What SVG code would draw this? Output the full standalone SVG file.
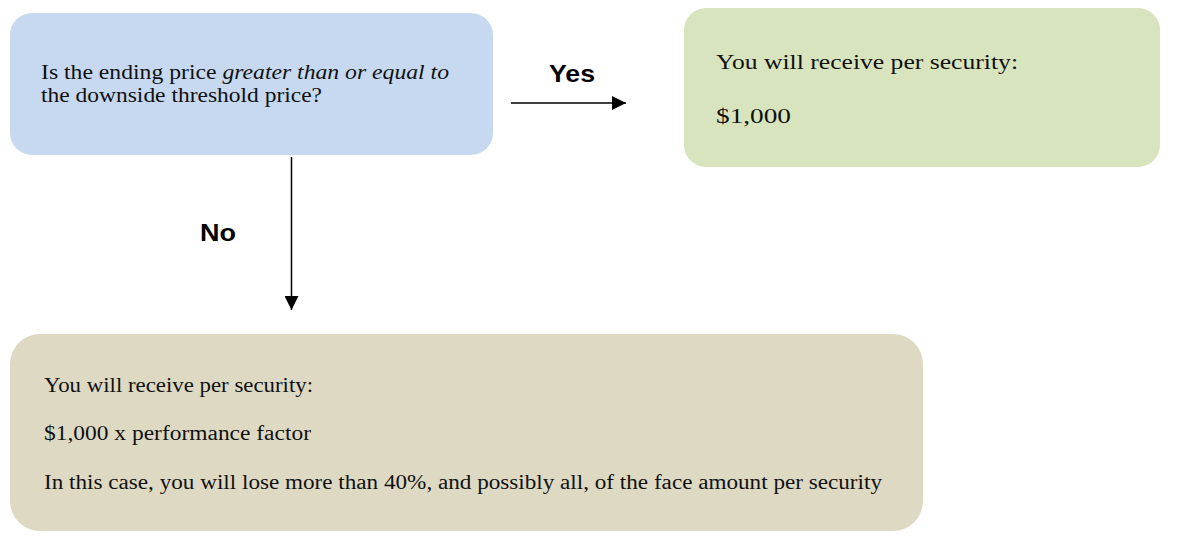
<svg xmlns="http://www.w3.org/2000/svg" width="1181" height="544" viewBox="0 0 1181 544">
<style>
.t{font-family:"Liberation Serif","DejaVu Serif",serif;fill:#111;}
.lbl{font-family:"Liberation Sans",Arial,sans-serif;font-weight:bold;font-size:23px;fill:#000;}
.conn{stroke:#000;stroke-width:1.5;fill:none;}
</style>
<defs>
<marker id="ah" viewBox="0 0 14 14" refX="14" refY="7" markerWidth="14" markerHeight="14" markerUnits="userSpaceOnUse" orient="auto">
<path d="M0,0 L14,7 L0,14 Z" fill="#000"/>
</marker>
</defs>
<rect width="1181" height="544" fill="#fff"/>
<g id="question">
<rect x="10" y="13" width="483" height="142" rx="22" fill="#c6d9f1"/>
<text class="t" x="41" y="79" font-size="20" textLength="408" lengthAdjust="spacingAndGlyphs">Is the ending price <tspan font-style="italic">greater than or equal to</tspan></text>
<text class="t" x="41" y="102" font-size="20" textLength="281" lengthAdjust="spacingAndGlyphs">the downside threshold price?</text>
</g>
<g id="yes-result">
<rect x="684" y="8" width="476" height="159" rx="22" fill="#d8e4bd"/>
<text class="t" x="716" y="69" font-size="21" textLength="302" lengthAdjust="spacingAndGlyphs">You will receive per security:</text>
<text class="t" x="716" y="123" font-size="21" textLength="75" lengthAdjust="spacingAndGlyphs">$1,000</text>
</g>
<g id="no-result">
<rect x="10" y="334" width="913" height="197" rx="30" fill="#ddd9c3"/>
<text class="t" x="44" y="392" font-size="20" textLength="269" lengthAdjust="spacingAndGlyphs">You will receive per security:</text>
<text class="t" x="44" y="440" font-size="20" textLength="267" lengthAdjust="spacingAndGlyphs">$1,000 x performance factor</text>
<text class="t" x="44" y="489" font-size="20" textLength="838" lengthAdjust="spacingAndGlyphs">In this case, you will lose more than 40%, and possibly all, of the face amount per security</text>
</g>
<g id="connectors">
<line class="conn" x1="511" y1="103" x2="626" y2="103" marker-end="url(#ah)"/>
<line class="conn" x1="291.5" y1="157" x2="291.5" y2="310" marker-end="url(#ah)"/>
<text class="lbl" x="549" y="82" textLength="46" lengthAdjust="spacingAndGlyphs">Yes</text>
<text class="lbl" x="200" y="241" textLength="36" lengthAdjust="spacingAndGlyphs">No</text>
</g>
</svg>
